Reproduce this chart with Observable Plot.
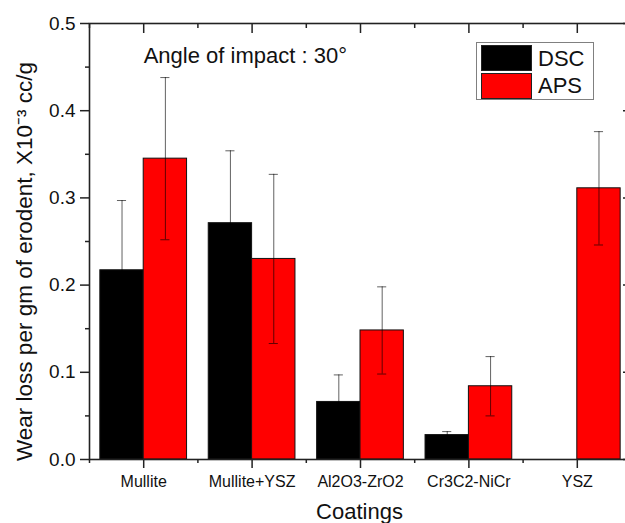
<!DOCTYPE html>
<html><head><meta charset="utf-8">
<script src="https://cdn.jsdelivr.net/npm/d3@7"></script>
<script src="https://cdn.jsdelivr.net/npm/@observablehq/plot@0.6"></script>
<style>
html,body{margin:0;padding:0;background:#fff;overflow:hidden;}
#wrap{position:relative;width:625px;height:523px;font-family:"Liberation Sans",Arial,sans-serif;}
#wrap svg{display:block;}
#legend{position:absolute;left:476px;top:42px;width:116px;height:56px;border:1px solid #808080;background:#fff;}
.sw{position:absolute;left:4px;width:51px;height:26px;border:1px solid #222;box-sizing:border-box}
.lt{position:absolute;left:61px;font-size:22px;line-height:22px;color:#111;white-space:nowrap}
</style></head><body><div id="wrap"></div>
<script>
const coatings = ["Mullite","Mullite+YSZ","Al2O3-ZrO2","Cr3C2-NiCr","YSZ"];
const series = ["DSC","APS"];
const dscValues = [0.217,0.271,0.066,0.028,null];
const dscErrors = [0.080,0.083,0.031,0.004,null];
const apsValues = [0.345,0.230,0.148,0.084,0.311];
const apsErrors = [0.093,0.097,0.050,0.034,0.065];
const colors = ["#000000","#ff0000"];
const yTicks = [0,0.1,0.2,0.3,0.4,0.5];
const yMinorTicks = [0.05,0.15,0.25,0.35,0.45];
const xMajorTicks = [1,2,3,4,5];
const xMinorTicks = [0.5,1.5,2.5,3.5,4.5,5.5];
const xLabel = "Coatings";
const yLabel = "Wear loss per gm of erodent, X10⁻³ cc/g";
const annotation = "Angle of impact : 30°";

const barWidth = 0.4;
const capHalf = 0.042;
const rows = [];
coatings.forEach((c,i)=>{
  [[dscValues,dscErrors,"DSC",-1],[apsValues,apsErrors,"APS",0]].forEach(([v,e,s,o])=>{
    if (v[i]==null) return;
    const x1 = i+1 + o*barWidth;
    rows.push({coating:c, series:s, x1, x2:x1+barWidth, xc:x1+barWidth/2, value:v[i], err:e[i]});
  });
});
const blank = () => "";
const axStroke = "#222";
const errStyle = {stroke:"#000",strokeOpacity:0.62,strokeWidth:1};

const chart = Plot.plot({
  width:625, height:523,
  marginLeft:89, marginRight:-6, marginTop:23, marginBottom:64,
  style:{fontFamily:'"Liberation Sans", Arial, sans-serif', color:"#111", background:"white"},
  x:{domain:[0.5,5.5]},
  y:{domain:[0,0.5]},
  color:{domain:series, range:colors},
  marks:[
    Plot.rectY(rows,{x1:"x1",x2:"x2",y1:0,y2:"value",fill:"series",stroke:"#111",strokeWidth:1}),
    Plot.ruleX(rows,{x:"xc",y1:d=>d.value-d.err,y2:d=>d.value+d.err,...errStyle}),
    Plot.ruleY(rows,{y:d=>d.value+d.err,x1:d=>d.xc-capHalf,x2:d=>d.xc+capHalf,...errStyle}),
    Plot.ruleY(rows,{y:d=>d.value-d.err,x1:d=>d.xc-capHalf,x2:d=>d.xc+capHalf,...errStyle}),
    Plot.frame({stroke:axStroke,strokeWidth:1.6}),
    Plot.axisY({anchor:"left",ticks:yTicks,tickSize:9,tickPadding:5,tickFormat:d3.format(".1f"),fontSize:19,label:null,stroke:axStroke,strokeWidth:1.5}),
    Plot.axisY({anchor:"left",ticks:yMinorTicks,tickSize:4,tickFormat:blank,label:null,stroke:axStroke,strokeWidth:1.5}),
    Plot.axisY({anchor:"right",ticks:yTicks,tickSize:-9,tickFormat:blank,label:null,stroke:axStroke,strokeWidth:1.5}),
    Plot.axisY({anchor:"right",ticks:yMinorTicks,tickSize:-4,tickFormat:blank,label:null,stroke:axStroke,strokeWidth:1.5}),
    Plot.axisX({anchor:"bottom",ticks:xMajorTicks,tickSize:9,tickPadding:7,tickFormat:d=>coatings[d-1],fontSize:16,label:null,stroke:axStroke,strokeWidth:1.5}),
    Plot.axisX({anchor:"bottom",ticks:xMinorTicks,tickSize:4,tickFormat:blank,label:null,stroke:axStroke,strokeWidth:1.5}),
    Plot.axisX({anchor:"top",ticks:xMajorTicks,tickSize:-9,tickFormat:blank,label:null,stroke:axStroke,strokeWidth:1.5}),
    Plot.axisX({anchor:"top",ticks:xMinorTicks,tickSize:-4,tickFormat:blank,label:null,stroke:axStroke,strokeWidth:1.5}),
    Plot.text([annotation],{x:1,y:0.4625,text:d=>d,textAnchor:"start",lineAnchor:"middle",fontSize:22,fill:"#111"}),
    Plot.text([xLabel],{frameAnchor:"bottom",text:d=>d,textAnchor:"middle",lineAnchor:"middle",dy:52,dx:-1,fontSize:22,fill:"#111"}),
    Plot.text([yLabel],{frameAnchor:"left",text:d=>d,textAnchor:"middle",rotate:-90,lineAnchor:"middle",dx:-65,dy:20,fontSize:22.5,fill:"#111"})
  ]
});
const wrap = document.getElementById("wrap");
wrap.appendChild(chart);
const legend = document.createElement("div");
legend.id = "legend";
series.forEach((s,i)=>{
  const sw = document.createElement("div");
  sw.className = "sw";
  sw.style.top = (i===0?2:30)+"px";
  sw.style.background = colors[i];
  legend.appendChild(sw);
  const t = document.createElement("div");
  t.className = "lt";
  t.style.top = (i===0?4.5:32)+"px";
  t.textContent = s;
  legend.appendChild(t);
});
wrap.appendChild(legend);
</script></body></html>
